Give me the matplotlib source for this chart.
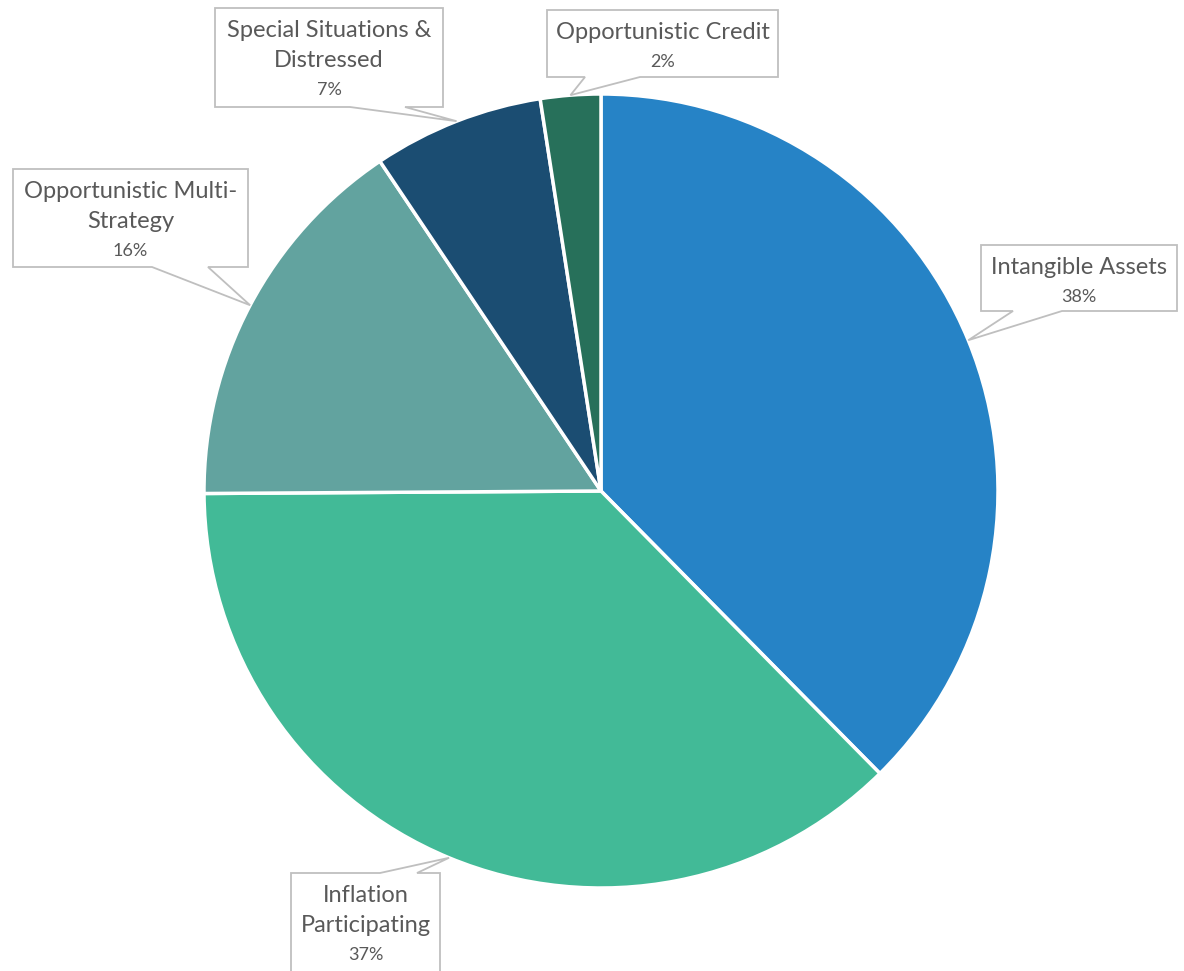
import numpy as np
import matplotlib
matplotlib.use("Agg")
import matplotlib.pyplot as plt
from matplotlib.patches import Polygon

# data (clockwise from 12 o'clock)
labels = ["Intangible Assets", "Inflation\nParticipating", "Opportunistic Multi-\nStrategy",
          "Special Situations &\nDistressed", "Opportunistic Credit"]
values = [37.6, 37.3, 15.7, 6.95, 2.45]
colors = ["#2683C6", "#42BA97", "#62A39F", "#1B4D72", "#27705A"]

# callout boxes in pixel coords (x0, top, x1, bottom), tail base x-range, tail side
boxes = [
    ((981, 245, 1177, 311), (1013, 1062), "bottom"),
    ((291, 873, 440, 990), (380, 417), "top"),
    ((13, 169, 248, 267), (152, 208), "bottom"),
    ((215, 8, 443, 107), (350, 405), "bottom"),
    ((547, 10, 778, 77), (585, 640), "bottom"),
]

W, H = 1184, 971
fig = plt.figure(figsize=(W / 100, H / 100), dpi=100)
ax = fig.add_axes([0, 0, 1, 1])
plt.rcParams['font.family'] = ['Lato', 'DejaVu Sans']

cx, cy, r = 601, H - 491, 397
wedges, _ = ax.pie(values, startangle=90, counterclock=False, colors=colors,
                   center=(cx, cy), radius=r,
                   wedgeprops=dict(edgecolor="white", linewidth=2.5))

txt_col = "#595959"
for w, lab, v, (box, base, side) in zip(wedges, labels, values, boxes):
    x0, top, x1, bot = box
    y_top, y_bot = H - top, H - bot
    ang = np.deg2rad((w.theta1 + w.theta2) / 2)
    tip = (cx + r * np.cos(ang), cy + r * np.sin(ang))
    if side == "bottom":
        pts = [(x0, y_top), (x1, y_top), (x1, y_bot), (base[1], y_bot), tip,
               (base[0], y_bot), (x0, y_bot)]
    else:
        pts = [(x0, y_top), (base[0], y_top), tip, (base[1], y_top), (x1, y_top),
               (x1, y_bot), (x0, y_bot)]
    ax.add_patch(Polygon(pts, closed=True, facecolor="white", edgecolor="#BFBFBF",
                         linewidth=1.3, zorder=3))
    xm = (x0 + x1) / 2
    lines = lab.split("\n")
    for i, ln in enumerate(lines):
        ax.text(xm, H - (top + 22 + 30 * i), ln, ha="center", va="center",
                fontsize=17, color=txt_col, zorder=4)
    ax.text(xm, H - (top + 22 + 30 * len(lines)), f"{v:.0f}%", ha="center",
            va="center", fontsize=13, color=txt_col, zorder=4)

ax.set_xlim(0, W)
ax.set_ylim(0, H)
ax.set_aspect("equal")
ax.axis("off")
fig.savefig("out.png", dpi=100, facecolor="white")
